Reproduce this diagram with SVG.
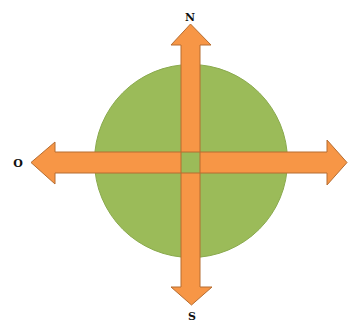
<svg xmlns="http://www.w3.org/2000/svg" width="349" height="322" viewBox="0 0 349 322">
<style>
.arrow{fill:#F79646;stroke:#B66D31;stroke-width:1}
.lbl{font-family:"DejaVu Serif","Liberation Serif",serif;font-weight:bold;font-size:11px;fill:#111;text-anchor:middle}
</style>
<rect width="349" height="322" fill="#fff"/>
<g id="circle"><circle cx="191" cy="161" r="96.5" fill="#9BBB59" stroke="#8AAA4E" stroke-width="1"/></g>
<g id="arrows">
<polygon id="north" class="arrow" points="181,152 181,45 171,45 190.5,24 211,45 200,45 200,152"/>
<polygon id="south" class="arrow" points="181,173 181,287 171,287 191.5,305 212,287 200,287 200,173"/>
<polygon id="west" class="arrow" points="181,152 55,152 55,142 31,162.5 55,184 55,173 181,173"/>
<polygon id="east" class="arrow" points="200,152 327,152 327,140 347,162.5 327,185 327,173 200,173"/>
</g>
<g id="labels">
<text class="lbl" x="190" y="21">N</text>
<text class="lbl" x="18" y="167">O</text>
<text class="lbl" x="192" y="320">S</text>
</g>
</svg>
